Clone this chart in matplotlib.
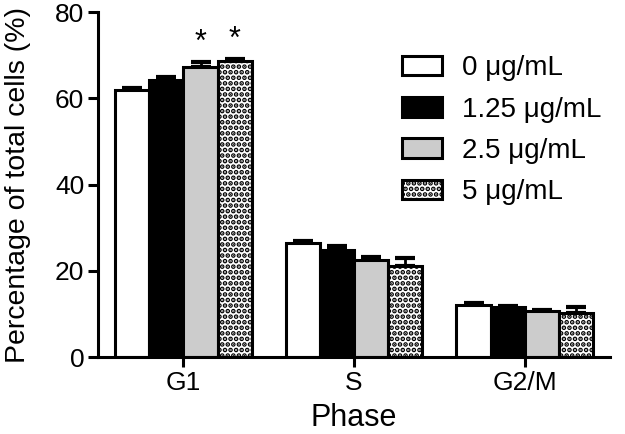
import numpy as np
import matplotlib.pyplot as plt

plt.rcParams['font.family'] = ['Liberation Sans', 'DejaVu Sans']
plt.rcParams['hatch.linewidth'] = 2.4

# data
phases = ['G1', 'S', 'G2/M']
doses = ['0 μg/mL', '1.25 μg/mL', '2.5 μg/mL', '5 μg/mL']
means = {
    '0 μg/mL': [61.9, 26.4, 12.1],
    '1.25 μg/mL': [64.2, 24.8, 11.6],
    '2.5 μg/mL': [67.2, 22.5, 10.7],
    '5 μg/mL': [68.6, 21.1, 10.2],
}
errs = {
    '0 μg/mL': [0.5, 0.5, 0.4],
    '1.25 μg/mL': [0.7, 0.9, 0.2],
    '2.5 μg/mL': [1.2, 0.7, 0.2],
    '5 μg/mL': [0.5, 1.9, 1.4],
}
# significance marks: (phase index, dose index)
stars = [(0, 2), (0, 3)]

colors = ['white', 'black', '#cccccc', 'white']
hatches = [None, None, None, '...']

fig = plt.figure(figsize=(6.25, 4.34), dpi=100)
ax = fig.add_axes([0.157, 0.177, 0.819, 0.795])

x = np.arange(len(phases))
w = 0.2
for i, d in enumerate(doses):
    pos = x + (i - 1.5) * w
    m = np.array(means[d])
    e = np.array(errs[d])
    ax.bar(pos, m, w, color=colors[i], edgecolor='black', linewidth=2.2,
           hatch=hatches[i], label=d, zorder=2)
    ax.errorbar(pos, m, yerr=[np.zeros_like(e), e], fmt='none', ecolor='black',
                elinewidth=2, capsize=7, capthick=3, zorder=1)

for pi, di in stars:
    px = x[pi] + (di - 1.5) * w
    top = means[doses[di]][pi] + errs[doses[di]][pi]
    ax.text(px, top + 2.6, '*', ha='center', va='baseline', fontsize=22)

ax.set_xlim(-0.5, 2.5)
ax.set_ylim(0, 80)
ax.set_yticks([0, 20, 40, 60, 80])
ax.set_xticks(x)
ax.set_xticklabels(phases)
ax.tick_params(axis='both', labelsize=19, width=2.2, length=7, direction='out', pad=3)
ax.set_xlabel('Phase', fontsize=22, labelpad=6)
ax.set_ylabel('Percentage of total cells (%)', fontsize=20.5, labelpad=17)
for s in ['top', 'right']:
    ax.spines[s].set_visible(False)
for s in ['left', 'bottom']:
    ax.spines[s].set_linewidth(2.2)

ax.legend(loc='upper left', bbox_to_anchor=(0.594, 0.875), frameon=False, fontsize=20,
          borderpad=0, borderaxespad=0, handlelength=1.45, handleheight=0.72,
          labelspacing=0.55, handletextpad=0.7)

fig.savefig('out.png', dpi=100)
